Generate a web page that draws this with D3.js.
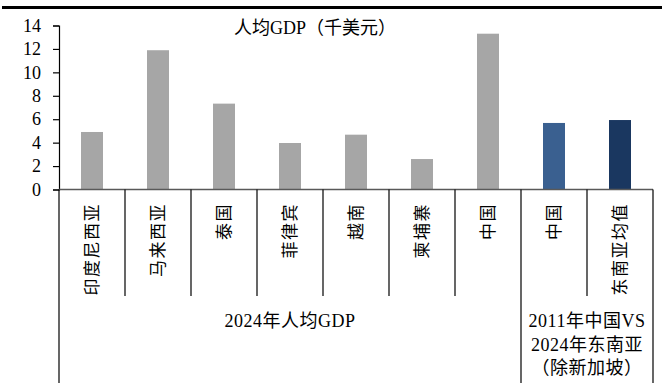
<!DOCTYPE html>
<html>
<head>
<meta charset="utf-8">
<script src="https://cdn.jsdelivr.net/npm/d3@7"></script>
<style>
  html, body { margin: 0; padding: 0; background: #fff; }
  svg { display: block; }
  text { font-family: "Liberation Serif", "Times New Roman", "Noto Sans CJK SC", serif; fill: #000; }
</style>
</head>
<body>
<svg id="chart" width="662" height="383"></svg>
<script>
// GDP per capita, thousand USD
const categories = ["印度尼西亚", "马来西亚", "泰国", "菲律宾", "越南", "柬埔寨", "中国", "中国", "东南亚均值"];
const values = [4.91, 11.89, 7.33, 3.97, 4.68, 2.60, 13.30, 5.68, 5.93];
const barColors = ["#a6a6a6", "#a6a6a6", "#a6a6a6", "#a6a6a6", "#a6a6a6", "#a6a6a6", "#a6a6a6", "#3a6090", "#1a3760"];
const yTicks = [0, 2, 4, 6, 8, 10, 12, 14];
const groupLabels = [["2024年人均GDP"], ["2011年中国VS", "2024年东南亚", "（除新加坡）"]];
const groupSpans = [[0, 7], [7, 9]];
const title = "人均GDP（千美元）";

const serif = "'Liberation Serif', 'Times New Roman', 'Noto Sans CJK SC', serif";
const svg = d3.select("#chart");
const plotLeft = 59, plotRight = 653, plotTop = 25.5, plotBase = 189.5;

const x = d3.scaleBand().domain(d3.range(categories.length)).range([plotLeft, plotRight]).padding(0);
const y = d3.scaleLinear().domain([0, 14]).range([plotBase, plotTop]);
const bw = x.bandwidth();

// header rule
svg.append("line").attr("x1", 2).attr("x2", 662).attr("y1", 7.5).attr("y2", 7.5)
  .attr("stroke", "#000").attr("stroke-width", 3);

// title
svg.append("text").attr("x", 234).attr("y", 28).attr("text-anchor", "start")
  .attr("dominant-baseline", "central").style("font-size", "18px").text(title);

// bars
svg.append("g").selectAll("rect").data(values).join("rect")
  .attr("x", (d, i) => x(i) + bw / 3)
  .attr("width", bw / 3)
  .attr("y", d => y(d))
  .attr("height", d => plotBase - y(d))
  .attr("fill", (d, i) => barColors[i]);

// y axis
const yAxis = d3.axisLeft(y).tickValues(yTicks).tickSize(6).tickPadding(12).tickFormat(d3.format("d"));
const gy = svg.append("g").attr("transform", `translate(${plotLeft},0)`).call(yAxis)
  .attr("font-family", serif).attr("font-size", 18);
gy.select(".domain").attr("stroke", "#000").attr("stroke-width", 1.2);
gy.selectAll(".tick line").attr("stroke", "#000").attr("stroke-width", 1.2);
gy.selectAll(".tick text").style("font-size", "18px")
  .style("font-family", serif).attr("fill", "#000");

// x axis baseline
svg.append("line").attr("x1", plotLeft).attr("x2", plotRight).attr("y1", plotBase).attr("y2", plotBase)
  .attr("stroke", "#595959").attr("stroke-width", 1.5);

// category dividers
const bounds = d3.range(categories.length + 1);
const groupEdges = new Set(groupSpans.flat());
svg.append("g").selectAll("line").data(bounds).join("line")
  .attr("x1", i => plotLeft + i * bw).attr("x2", i => plotLeft + i * bw)
  .attr("y1", plotBase).attr("y2", i => groupEdges.has(i) ? 383 : 296)
  .attr("stroke", "#000").attr("stroke-width", 1.2);

// category labels (rotated)
svg.append("g").selectAll("text").data(categories).join("text")
  .attr("transform", (d, i) => `translate(${x(i) + bw / 2},203) rotate(-90)`)
  .attr("text-anchor", "end")
  .attr("dominant-baseline", "central")
  .style("font-size", "17px")
  .style("letter-spacing", "1.5px")
  .text(d => d);

// group labels
groupSpans.forEach((span, gi) => {
  const cx = plotLeft + (span[0] + span[1]) / 2 * bw;
  groupLabels[gi].forEach((line, li) => {
    svg.append("text").attr("x", cx).attr("y", 321 + li * 23.5)
      .attr("text-anchor", "middle").attr("dominant-baseline", "central")
      .style("font-size", "18px").style("letter-spacing", "0.5px").text(line);
  });
});
</script>
</body>
</html>
